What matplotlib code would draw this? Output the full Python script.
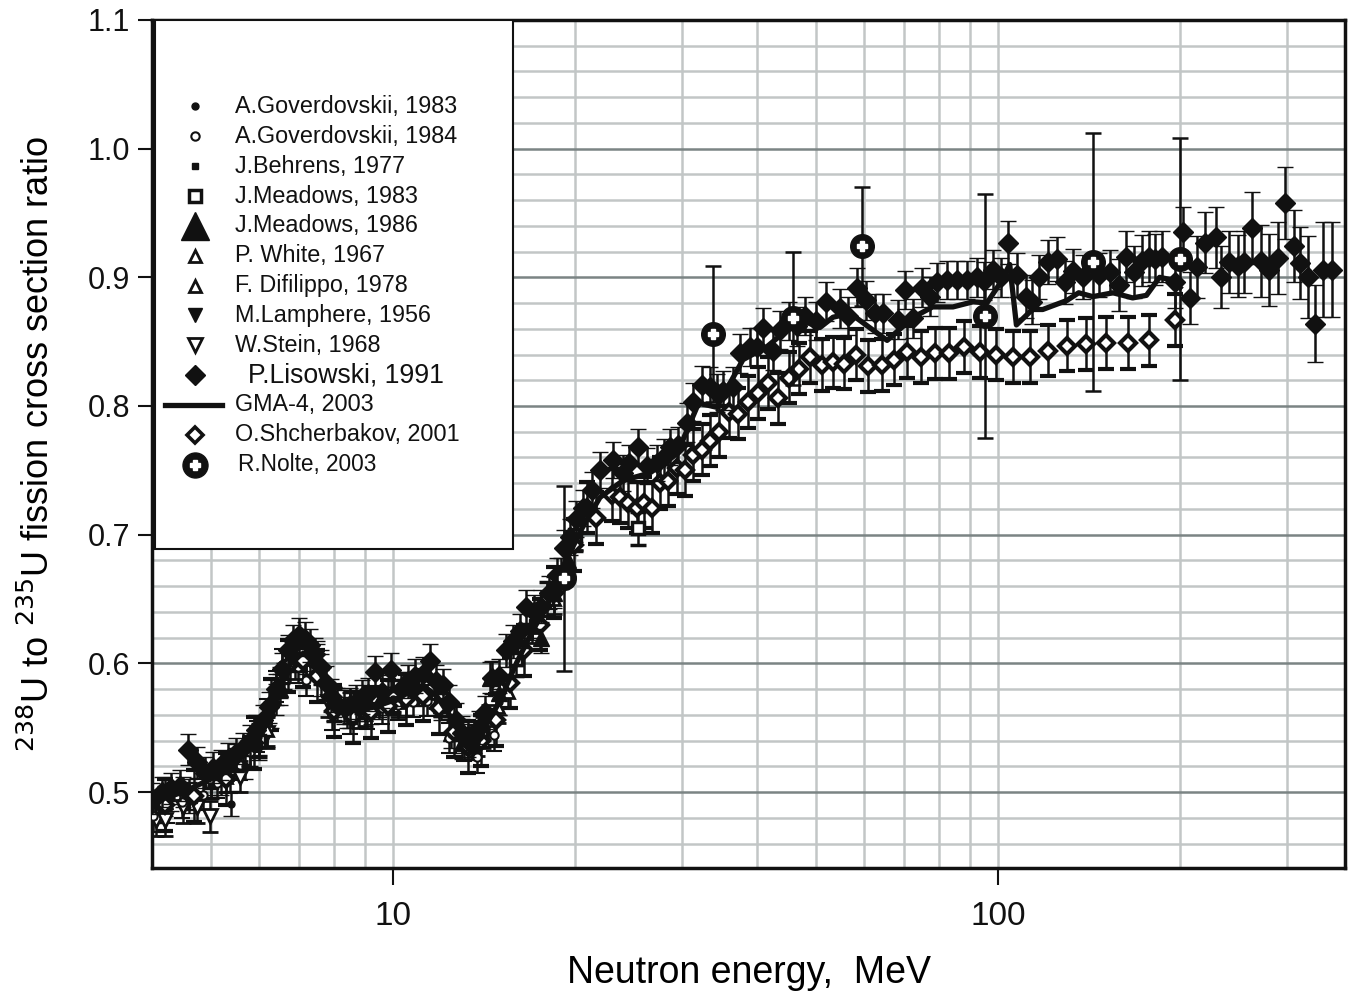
import matplotlib
matplotlib.use("Agg")
from matplotlib import pyplot as plt
from matplotlib.patches import Rectangle
from matplotlib.ticker import FixedLocator, MultipleLocator, FormatStrFormatter, NullFormatter

plt.rcParams['font.family'] = ['Liberation Sans', 'DejaVu Sans']

# ---- data (neutron energy in MeV, 238U/235U fission ratio) ----
lis_e = [4.00, 4.15, 4.30, 4.45, 4.58, 4.74, 4.90, 5.05, 5.20, 5.35, 5.50, 5.65, 5.80, 5.95,
         6.10, 6.25, 6.40, 6.55, 6.70, 6.85, 7.00, 7.15, 7.30, 7.45, 7.60, 7.75, 7.90, 8.10,
         8.30, 8.50, 8.70, 8.90, 9.10, 9.35, 9.60, 9.95, 10.3, 10.6, 10.9, 11.2, 11.5, 11.8,
         12.1, 12.4, 12.7, 13.0, 13.3, 13.6, 13.9, 14.2, 14.6, 15.0, 15.4, 15.8, 16.2, 16.6,
         17.1, 17.6, 18.1, 18.7, 19.2, 19.6, 20.1, 20.6, 21.3, 22.0, 23.1, 24.0, 24.6, 25.4,
         26.3, 27.3, 28.1, 28.7, 29.6, 30.6, 31.3, 32.4, 33.4, 34.3, 35.1, 36.5, 37.5, 38.9,
         40.0, 40.9, 42.5, 43.6, 45.1, 46.5, 48.0, 50.0, 52.0, 54.8, 56.5, 58.5, 60.6, 62.7,
         64.7, 68.4, 70.3, 72.5, 74.9, 77.3, 79.3, 82.3, 85.6, 88.9, 92.2, 95.0, 98.0, 101.0,
         103.9, 107.4, 111.3, 114.0, 117.0, 121.0, 125.0, 129.0, 133.0, 138.0, 147.0, 153.0,
         158.8, 163.0, 168.0, 173.0, 178.0, 182.0, 187.0, 196.0, 202.0, 207.5, 213.0, 220.0,
         229.0, 234.0, 241.0, 249.0, 255.0, 263.0, 272.0, 281.0, 290.0, 298.0, 308.0, 316.0,
         325.0, 334.0, 344.0, 356.0]
lis_r = [0.495, 0.500, 0.503, 0.505, 0.533, 0.523, 0.515, 0.519, 0.521, 0.526, 0.530, 0.534, 0.540, 0.548,
         0.556, 0.566, 0.580, 0.596, 0.610, 0.618, 0.622, 0.619, 0.614, 0.607, 0.597, 0.585, 0.575, 0.568,
         0.566, 0.568, 0.570, 0.574, 0.576, 0.593, 0.578, 0.595, 0.580, 0.586, 0.590, 0.592, 0.602, 0.586,
         0.583, 0.570, 0.556, 0.546, 0.540, 0.543, 0.550, 0.562, 0.589, 0.590, 0.610, 0.617, 0.625, 0.644,
         0.640, 0.644, 0.655, 0.669, 0.690, 0.698, 0.712, 0.721, 0.735, 0.750, 0.758, 0.748, 0.756, 0.768,
         0.753, 0.756, 0.760, 0.768, 0.770, 0.787, 0.803, 0.816, 0.815, 0.810, 0.812, 0.815, 0.841, 0.846,
         0.846, 0.861, 0.843, 0.859, 0.866, 0.862, 0.870, 0.866, 0.881, 0.876, 0.870, 0.892, 0.882, 0.872,
         0.872, 0.867, 0.890, 0.868, 0.892, 0.885, 0.896, 0.898, 0.898, 0.898, 0.900, 0.897, 0.906, 0.900,
         0.927, 0.902, 0.885, 0.881, 0.900, 0.912, 0.914, 0.896, 0.905, 0.900, 0.902, 0.904,
         0.894, 0.916, 0.904, 0.913, 0.916, 0.914, 0.916, 0.896, 0.935, 0.884, 0.908, 0.927,
         0.931, 0.900, 0.912, 0.909, 0.912, 0.938, 0.913, 0.906, 0.915, 0.958, 0.924, 0.911,
         0.900, 0.864, 0.906, 0.906]
lis_err = [0.012] * 20 + [0.013] * 40 + [0.014] * 15 + [0.015] * 37 + [0.017] * 12 + \
          [0.020] * 10 + [0.024] * 7 + [0.028] * 7 + [0.032, 0.030, 0.037, 0.037]

shc_e = [4.2, 4.7, 5.3, 5.9, 6.3, 6.7, 7.1, 7.5, 8.0, 8.6, 9.2, 9.8, 10.5, 11.2, 11.9, 12.6,
         13.3, 14.0, 14.8, 15.6, 16.5, 17.5, 18.5, 19.9, 20.9, 21.7, 23.0, 23.7, 24.5, 25.3,
         26.0, 26.8, 27.6, 28.5, 29.5, 30.4, 31.3, 32.4, 33.4, 34.6, 36.0, 37.2, 38.6, 40.1,
         41.7, 43.3, 45.1, 46.9, 48.9, 51.2, 53.3, 55.7, 58.2, 61.0, 64.3, 67.3, 70.8, 74.6,
         78.6, 83.0, 87.8, 93.3, 99.2, 105.9, 112.9, 120.9, 130.0, 139.8, 151.0, 164.0, 178.0, 196.0]
shc_r = [0.490, 0.497, 0.510, 0.538, 0.568, 0.598, 0.602, 0.590, 0.563, 0.558, 0.562, 0.567, 0.572, 0.575,
         0.565, 0.547, 0.535, 0.540, 0.556, 0.585, 0.610, 0.630, 0.655, 0.692, 0.721, 0.713, 0.731, 0.729,
         0.725, 0.721, 0.725, 0.721, 0.740, 0.742, 0.752, 0.750, 0.762, 0.766, 0.773, 0.780, 0.795, 0.794,
         0.803, 0.810, 0.818, 0.806, 0.822, 0.829, 0.838, 0.832, 0.834, 0.833, 0.840, 0.831, 0.832, 0.836,
         0.842, 0.838, 0.841, 0.841, 0.846, 0.842, 0.840, 0.838, 0.838, 0.843, 0.847, 0.848, 0.849, 0.849,
         0.851, 0.867]
shc_err = 0.02

gma_e = [4.0, 4.5, 5.0, 5.5, 6.0, 6.3, 6.6, 6.9, 7.2, 7.5, 7.8, 8.2, 8.7, 9.3, 10.0, 10.7, 11.2,
         11.8, 12.4, 13.0, 13.6, 14.1, 15.0, 16.0, 17.0, 18.0, 19.1, 20.6, 22.0, 24.0, 26.6, 29.5,
         31.8, 32.2, 34.3, 36.5, 37.9, 41.5, 44.8, 47.1, 50.8, 53.4, 57.0, 65.6, 72.5, 78.0, 84.3,
         91.0, 95.9, 100.7, 104.6, 107.3, 114.0, 118.6, 130.0, 136.0, 143.5, 155.0, 167.0, 176.0,
         185.0, 194.0, 200.0]
gma_r = [0.492, 0.500, 0.510, 0.522, 0.542, 0.565, 0.590, 0.606, 0.608, 0.598, 0.580, 0.566, 0.563,
         0.566, 0.571, 0.578, 0.583, 0.575, 0.560, 0.545, 0.538, 0.548, 0.570, 0.600, 0.625, 0.645,
         0.675, 0.706, 0.729, 0.742, 0.748, 0.763, 0.799, 0.802, 0.799, 0.822, 0.836, 0.846, 0.859,
         0.867, 0.861, 0.869, 0.872, 0.851, 0.869, 0.877, 0.877, 0.881, 0.880, 0.895, 0.910, 0.863,
         0.875, 0.875, 0.882, 0.888, 0.885, 0.888, 0.884, 0.886, 0.900, 0.898, 0.892]

nolte_e = [19.2, 33.8, 45.8, 59.6, 95.2, 143.5, 200.0]
nolte_r = [0.666, 0.856, 0.868, 0.924, 0.870, 0.912, 0.914]
nolte_err = [0.072, 0.053, 0.052, 0.046, 0.095, 0.100, 0.094]

gov83_e = [4.05, 4.3, 4.6, 5.0, 5.4, 5.7, 6.0, 6.3, 6.6, 6.9, 7.2, 7.6, 8.0, 8.5, 9.0, 9.5, 10.0,
           11.0, 12.0, 13.0, 14.0, 15.0]
gov83_r = [0.490, 0.495, 0.497, 0.505, 0.491, 0.520, 0.535, 0.560, 0.590, 0.605, 0.602, 0.585,
           0.565, 0.560, 0.565, 0.570, 0.572, 0.578, 0.570, 0.540, 0.550, 0.570]

gov84_e = [4.01, 4.23, 4.49, 4.85, 5.12, 5.38, 5.58, 5.8, 5.96, 6.19, 6.4, 6.55, 6.76, 6.97, 7.2,
           7.93, 8.5, 9.06, 9.6, 10.2, 10.8, 11.4, 12.4, 13.1, 13.8, 14.7]
gov84_r = [0.481, 0.488, 0.492, 0.498, 0.507, 0.511, 0.521, 0.531, 0.543, 0.560, 0.582, 0.599,
           0.597, 0.597, 0.587, 0.560, 0.557, 0.561, 0.565, 0.568, 0.570, 0.571, 0.542, 0.536,
           0.527, 0.544]

beh_e = [4.5, 5.5, 6.5, 7.5, 8.5, 9.5, 11.0, 13.0, 15.0, 17.0, 19.0]
beh_r = [0.500, 0.525, 0.585, 0.605, 0.566, 0.569, 0.580, 0.545, 0.572, 0.632, 0.670]

mea83_e = [5.0, 6.0, 7.0, 8.0, 10.0, 12.0, 14.0, 16.0, 18.0, 20.0, 25.4]
mea83_r = [0.508, 0.540, 0.607, 0.568, 0.574, 0.572, 0.548, 0.603, 0.650, 0.700, 0.705]

mea86_e = [4.2, 4.6, 5.0, 5.5, 6.0, 6.5, 7.0, 7.5, 8.0, 8.5, 9.0, 9.5, 10.0, 11.0, 12.0, 12.5,
           13.0, 13.5, 14.0, 14.5, 15.0, 16.0, 17.0, 17.6, 18.5, 19.5]
mea86_r = [0.493, 0.498, 0.510, 0.522, 0.541, 0.580, 0.608, 0.603, 0.570, 0.565, 0.567, 0.570,
           0.575, 0.579, 0.568, 0.546, 0.538, 0.537, 0.547, 0.589, 0.577, 0.610, 0.630, 0.620,
           0.655, 0.680]

white_e = [13.8, 14.4, 14.9]
white_r = [0.540, 0.556, 0.566]

difi_e = [5.3, 6.2, 7.3, 8.8, 10.2, 11.8, 13.5, 14.1, 15.5, 17.0, 18.5, 20.0]
difi_r = [0.512, 0.548, 0.603, 0.562, 0.570, 0.577, 0.538, 0.546, 0.578, 0.628, 0.650, 0.700]

lamp_e = [4.1, 4.6, 5.2, 5.8, 6.4, 7.0, 7.6, 8.4, 9.2, 10.5, 12.0, 14.0]
lamp_r = [0.488, 0.496, 0.510, 0.532, 0.572, 0.606, 0.595, 0.562, 0.565, 0.572, 0.570, 0.548]

stein_e = [4.06, 4.2, 4.5, 4.74, 4.98, 5.6, 6.2, 6.9, 7.8, 9.0]
stein_r = [0.478, 0.478, 0.488, 0.488, 0.481, 0.512, 0.546, 0.600, 0.570, 0.563]


fig = plt.figure(figsize=(13.49, 9.98), dpi=100)
ax = fig.add_axes([0.1127, 0.1303, 0.8845, 0.8497])

eb = dict(ecolor='#111111', elinewidth=1.8, capsize=5.5, capthick=1.8, linestyle='none')


def series(x, y, err, marker, ms, face='#111111', mew=1.0, z=3):
    ax.errorbar(x, y, yerr=err, marker=marker, ms=ms, mfc=face, mec='#111111',
                mew=mew, zorder=z, **eb)


series(stein_e, stein_r, 0.012, 'v', 10, face='white', mew=2)
series(lamp_e, lamp_r, 0.012, 'v', 9)
series(difi_e, difi_r, 0.012, '^', 9, face='white', mew=2)
series(white_e, white_r, 0.012, '^', 9, face='white', mew=2)
series(mea86_e, mea86_r, 0.012, '^', 12)
series(mea83_e, mea83_r, 0.013, 's', 8, face='white', mew=2.5)
series(beh_e, beh_r, 0.012, 's', 5)
series(gov84_e, gov84_r, 0.012, 'o', 6, face='white', mew=1.5)
series(gov83_e, gov83_r, 0.010, 'o', 5)
series(shc_e, shc_r, shc_err, 'D', 8.5, face='white', mew=3)
series(lis_e, lis_r, lis_err, 'D', 10, z=4)

ax.plot(gma_e, gma_r, color='#111111', lw=3.8, zorder=5, solid_joinstyle='round')

ax.errorbar(nolte_e, nolte_r, yerr=nolte_err, marker='o', ms=17, mfc='#111111', mec='#111111',
            zorder=6, **eb)
ax.plot(nolte_e, nolte_r, marker='P', ms=7.5, color='white', mec='white', linestyle='none', zorder=7)

# ---- axes ----
ax.set_xscale('log')
ax.set_xlim(4.0, 375)
ax.set_ylim(0.441, 1.1)
ax.xaxis.set_major_locator(FixedLocator([10, 100]))
ax.xaxis.set_major_formatter(FormatStrFormatter('%d'))
ax.xaxis.set_minor_locator(FixedLocator([5, 6, 7, 8, 9, 20, 30, 40, 50, 60, 70, 80, 90, 200, 300]))
ax.xaxis.set_minor_formatter(NullFormatter())
ax.yaxis.set_major_locator(MultipleLocator(0.1))
ax.yaxis.set_major_formatter(FormatStrFormatter('%.1f'))
ax.yaxis.set_minor_locator(MultipleLocator(0.02))

ax.tick_params(which='major', direction='out', length=10, width=1.5, colors='#111111')
ax.tick_params(axis='y', which='major', labelsize=22, pad=6)
ax.tick_params(axis='x', which='major', length=12, pad=12, labelsize=24)
ax.tick_params(which='minor', length=0)

ax.xaxis.grid(True, which='both', color='#c2c6c6', lw=1.8)
ax.yaxis.grid(True, which='minor', color='#c2c6c6', lw=1.8)
ax.yaxis.grid(True, which='major', color='#7b8484', lw=1.8)
ax.set_axisbelow(True)
for s in ax.spines.values():
    s.set_linewidth(2.5)
    s.set_color('#111111')

ax.set_xlabel('Neutron energy,  MeV', fontsize=27, labelpad=16)
ax.set_ylabel('$^{238}$U to $^{235}$U fission cross section ratio', fontsize=26, labelpad=22)

# ---- legend box ----
ax.add_patch(Rectangle((0.0025, 0.376), 0.30, 0.624, transform=ax.transAxes,
                       facecolor='white', edgecolor='#111111', lw=1.5, zorder=10))

entries = [
    ('A.Goverdovskii, 1983', dict(marker='o', ms=5, mfc='#111111')),
    ('A.Goverdovskii, 1984', dict(marker='o', ms=6, mfc='white', mew=1.5)),
    ('J.Behrens, 1977', dict(marker='s', ms=5, mfc='#111111')),
    ('J.Meadows, 1983', dict(marker='s', ms=8, mfc='white', mew=2.5)),
    ('J.Meadows, 1986', dict(marker='^', ms=20, mfc='#111111')),
    ('P. White, 1967', dict(marker='^', ms=9, mfc='white', mew=2)),
    ('F. Difilippo, 1978', dict(marker='^', ms=9, mfc='white', mew=2)),
    ('M.Lamphere, 1956', dict(marker='v', ms=10, mfc='#111111')),
    ('W.Stein, 1968', dict(marker='v', ms=10, mfc='white', mew=2)),
    ('P.Lisowski, 1991', dict(marker='D', ms=10, mfc='#111111')),
    ('GMA-4, 2003', None),
    ('O.Shcherbakov, 2001', dict(marker='D', ms=8, mfc='white', mew=2.6)),
    ('R.Nolte, 2003', dict(marker='o', ms=18, mfc='#111111')),
]
for i, (label, style) in enumerate(entries):
    y = 0.898 - i * 0.0352
    if style is None:
        ax.plot([0.011, 0.0587], [y, y], color='#111111', lw=3.8, transform=ax.transAxes,
                zorder=11, clip_on=False)
    else:
        ax.plot([0.036], [y], color='#111111', mec='#111111', linestyle='none',
                transform=ax.transAxes, zorder=11, clip_on=False, **style)
    size, tx = 16.8, 0.0696
    if label.startswith('P.Lisowski'):
        size, tx = 19.2, 0.0802
    elif label.startswith('R.Nolte'):
        size, tx = 16.3, 0.0721
    ax.text(tx, y, label, transform=ax.transAxes, fontsize=size, va='center', ha='left',
            color='#111111', zorder=12)
ax.plot([0.036], [0.898 - 12 * 0.0352], marker='P', ms=7, color='white', linestyle='none',
        transform=ax.transAxes, zorder=12, clip_on=False)

fig.savefig('out.png', dpi=100)
